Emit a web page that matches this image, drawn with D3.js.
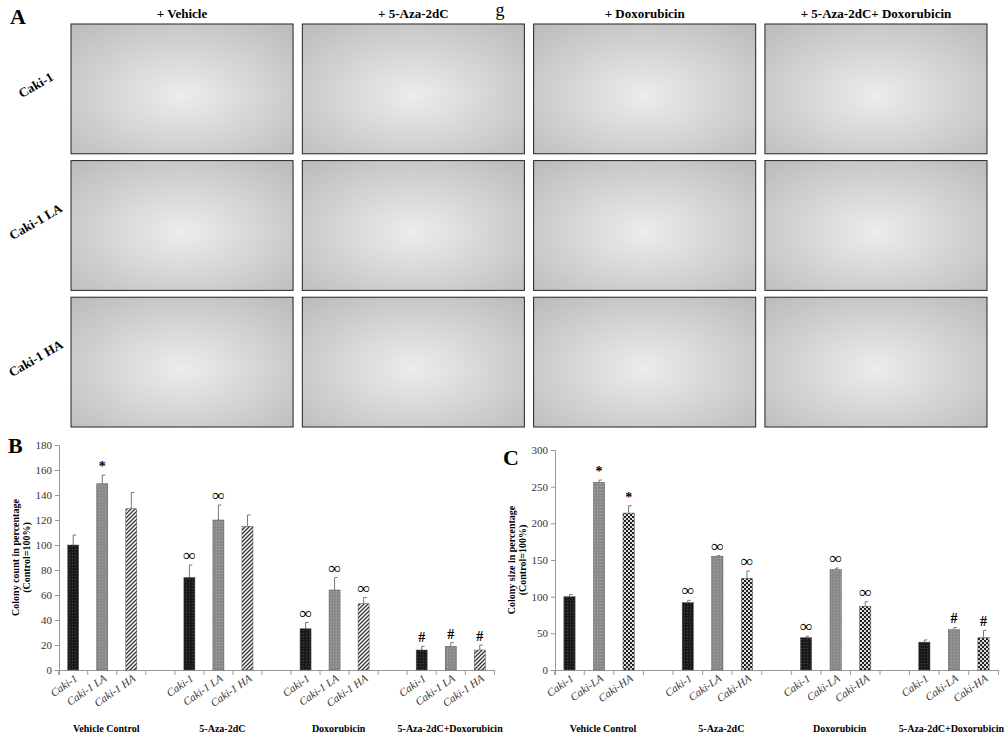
<!DOCTYPE html>
<html><head><meta charset="utf-8">
<script src="https://cdn.jsdelivr.net/npm/d3@7"></script>
<style>body{margin:0;background:#fff}svg{font-family:"Liberation Serif",serif}</style>
</head><body><div id="fig"></div>
<script>
// panel A labels
const treatments = ["+ Vehicle", "+ 5-Aza-2dC", "+ Doxorubicin", "+ 5-Aza-2dC+ Doxorubicin"];
const lines = ["Caki-1", "Caki-1 LA", "Caki-1 HA"];

// panel B / C data
const groups = ["Vehicle Control", "5-Aza-2dC", "Doxorubicin", "5-Aza-2dC+Doxorubicin"];
const seriesB = ["Caki-1", "Caki-1 LA", "Caki-1 HA"];
const seriesC = ["Caki-1", "Caki-LA", "Caki-HA"];
const countVals = [[100, 74, 33, 16], [149, 120, 64, 19], [129, 115, 53, 16]];
const countErr = [[8, 10, 5, 3], [7, 12, 10, 3], [13, 9, 5, 4]];
const countMarks = [["", "∞", "∞", "#"], ["*", "∞", "∞", "#"], ["", "", "∞", "#"]];
const sizeVals = [[100, 92, 44, 38], [256, 155, 137, 55], [214, 125, 87, 44]];
const sizeErr = [[3, 3, 2, 3], [3, 1, 2, 3], [10, 10, 6, 10]];
const sizeMarks = [["", "∞", "∞", ""], ["*", "∞", "∞", "#"], ["*", "∞", "∞", "#"]];

const svg = d3.select("#fig").append("svg").attr("width", 1008).attr("height", 739);
const defs = svg.append("defs");

// photo look
const rg = defs.append("radialGradient").attr("id", "photo").attr("cx", "50%").attr("cy", "55%").attr("r", "70%");
rg.append("stop").attr("offset", "0%").attr("stop-color", "#ececec");
rg.append("stop").attr("offset", "100%").attr("stop-color", "#bdbdbd");

// patterns
function pat(id, size, bg, draw) {
    const p = defs.append("pattern").attr("id", id).attr("patternUnits", "userSpaceOnUse")
        .attr("width", size).attr("height", size);
    p.append("rect").attr("width", size).attr("height", size).attr("fill", bg);
    draw(p);
}
pat("pDark", 3, "#1a1a1a", p => p.append("rect").attr("width", 1).attr("height", 1).attr("fill", "#444"));
pat("pGray", 3, "#8a8a8a", p => p.append("rect").attr("width", 1).attr("height", 1).attr("fill", "#a8a8a8"));
pat("pHatch", 4, "#fff", p => p.append("path").attr("d", "M0,4L4,0M-1,1L1,-1M3,5L5,3").attr("stroke", "#333").attr("stroke-width", 1.3));
pat("pCheck", 4, "#ddd", p => { p.append("rect").attr("width", 2).attr("height", 2).attr("fill", "#222"); p.append("rect").attr("x", 2).attr("y", 2).attr("width", 2).attr("height", 2).attr("fill", "#222"); });

// ---- Panel A
const colX = d3.scaleBand().domain(treatments).range([71, 987]).paddingInner(0.04);
const rowY = d3.scaleBand().domain(lines).range([24, 427]).paddingInner(0.05);
svg.append("text").attr("x", 10).attr("y", 24).attr("font-size", 22).attr("font-weight", "bold").text("A");
svg.append("text").attr("x", 500).attr("y", 16).attr("font-size", 18).attr("text-anchor", "middle").text("g");
treatments.forEach(t => {
    svg.append("text").attr("x", colX(t) + colX.bandwidth() / 2).attr("y", 18)
        .attr("text-anchor", "middle").attr("font-size", 13).attr("font-weight", "bold").text(t);
    lines.forEach(l => {
        svg.append("rect").attr("x", colX(t)).attr("y", rowY(l)).attr("width", colX.bandwidth())
            .attr("height", rowY.bandwidth()).attr("fill", "url(#photo)").attr("stroke", "#222");
    });
});
lines.forEach(l => {
    svg.append("text").attr("transform", `translate(38,${rowY(l) + rowY.bandwidth() / 2}) rotate(-30)`)
        .attr("text-anchor", "middle").attr("font-size", 13).attr("font-weight", "bold").text(l);
});

// ---- bar charts
function barChart(o) {
    const slots = [];
    groups.forEach((g, gi) => {
        o.series.forEach((s, si) => slots.push(gi + "_" + si));
        if (gi < groups.length - 1) slots.push("gap" + gi);
    });
    const x = d3.scaleBand().domain(slots).range([o.x0, o.x1]).paddingInner(0.62).paddingOuter(0.3);
    const y = d3.scaleLinear().domain([0, o.max]).range([670, o.ytop]);
    const g = svg.append("g");
    const ax = g.append("g").attr("transform", "translate(0,670)")
        .call(d3.axisBottom(x).tickSize(5).tickFormat(""));
    ax.select(".domain").attr("stroke", "#999");
    ax.selectAll(".tick line").attr("stroke", "#999").attr("transform", `translate(${-x.step() / 2},0)`);
    const ay = g.append("g").attr("transform", `translate(${o.x0},0)`)
        .call(d3.axisLeft(y).ticks(o.max / o.step).tickSize(4));
    ay.select(".domain").attr("stroke", "#999");
    ay.selectAll(".tick line").attr("stroke", "#999");
    ay.selectAll(".tick text").attr("font-size", 11).attr("fill", "#333").attr("font-family", "Liberation Serif");

    groups.forEach((grp, gi) => {
        o.series.forEach((s, si) => {
            const k = gi + "_" + si, v = o.vals[si][gi], e = o.err[si][gi];
            const cx = x(k) + x.bandwidth() / 2;
            g.append("line").attr("x1", cx).attr("x2", cx).attr("y1", y(v)).attr("y2", y(v + e)).attr("stroke", "#777");
            g.append("line").attr("x1", cx).attr("x2", cx + 3).attr("y1", y(v + e)).attr("y2", y(v + e)).attr("stroke", "#777");
            g.append("rect").attr("x", x(k)).attr("y", y(v)).attr("width", x.bandwidth()).attr("height", 670 - y(v))
                .attr("fill", `url(#${o.fills[si]})`).attr("stroke", "#555").attr("stroke-width", 0.5);
            const m = o.marks[si][gi];
            if (m) g.append("text").attr("x", cx).attr("y", y(v + e) - 4).attr("text-anchor", "middle")
                .attr("font-size", m === "∞" ? 17 : 14).attr("font-weight", "bold").text(m);
            g.append("text").attr("transform", `translate(${cx + 5},${680}) rotate(-35)`)
                .attr("text-anchor", "end").attr("font-size", 11).attr("font-style", "italic").attr("fill", "#333").text(s);
        });
        const mid = x(gi + "_1") + x.bandwidth() / 2;
        const last = gi === groups.length - 1;
        g.append("text").attr("x", last ? Math.min(mid + 52, 1004) : mid + 4).attr("y", 732)
            .attr("text-anchor", last ? "end" : "middle")
            .attr("font-size", 10).attr("font-weight", "bold").text(grp);
    });
    g.append("text").attr("x", o.lx).attr("y", o.ly).attr("font-size", 22).attr("font-weight", "bold").text(o.letter);
    g.append("text").attr("transform", `translate(${o.x0 - 40},${(670 + o.ytop) / 2}) rotate(-90)`)
        .attr("text-anchor", "middle").attr("font-size", 10).attr("font-weight", "bold")
        .selectAll("tspan").data(o.ylab).join("tspan").attr("x", 0).attr("dy", (d, i) => i ? 11 : 0).text(d => d);
}

barChart({ x0: 59, x1: 494, ytop: 445, max: 180, step: 20, series: seriesB, vals: countVals, err: countErr,
    marks: countMarks, fills: ["pDark", "pGray", "pHatch"], letter: "B", lx: 8, ly: 453,
    ylab: ["Colony count in percentage", "(Control=100%)"] });
barChart({ x0: 555, x1: 998, ytop: 450, max: 300, step: 50, series: seriesC, vals: sizeVals, err: sizeErr,
    marks: sizeMarks, fills: ["pDark", "pGray", "pCheck"], letter: "C", lx: 503, ly: 465,
    ylab: ["Colony size  in percentage", "(Control=100%)"] });
</script></body></html>
